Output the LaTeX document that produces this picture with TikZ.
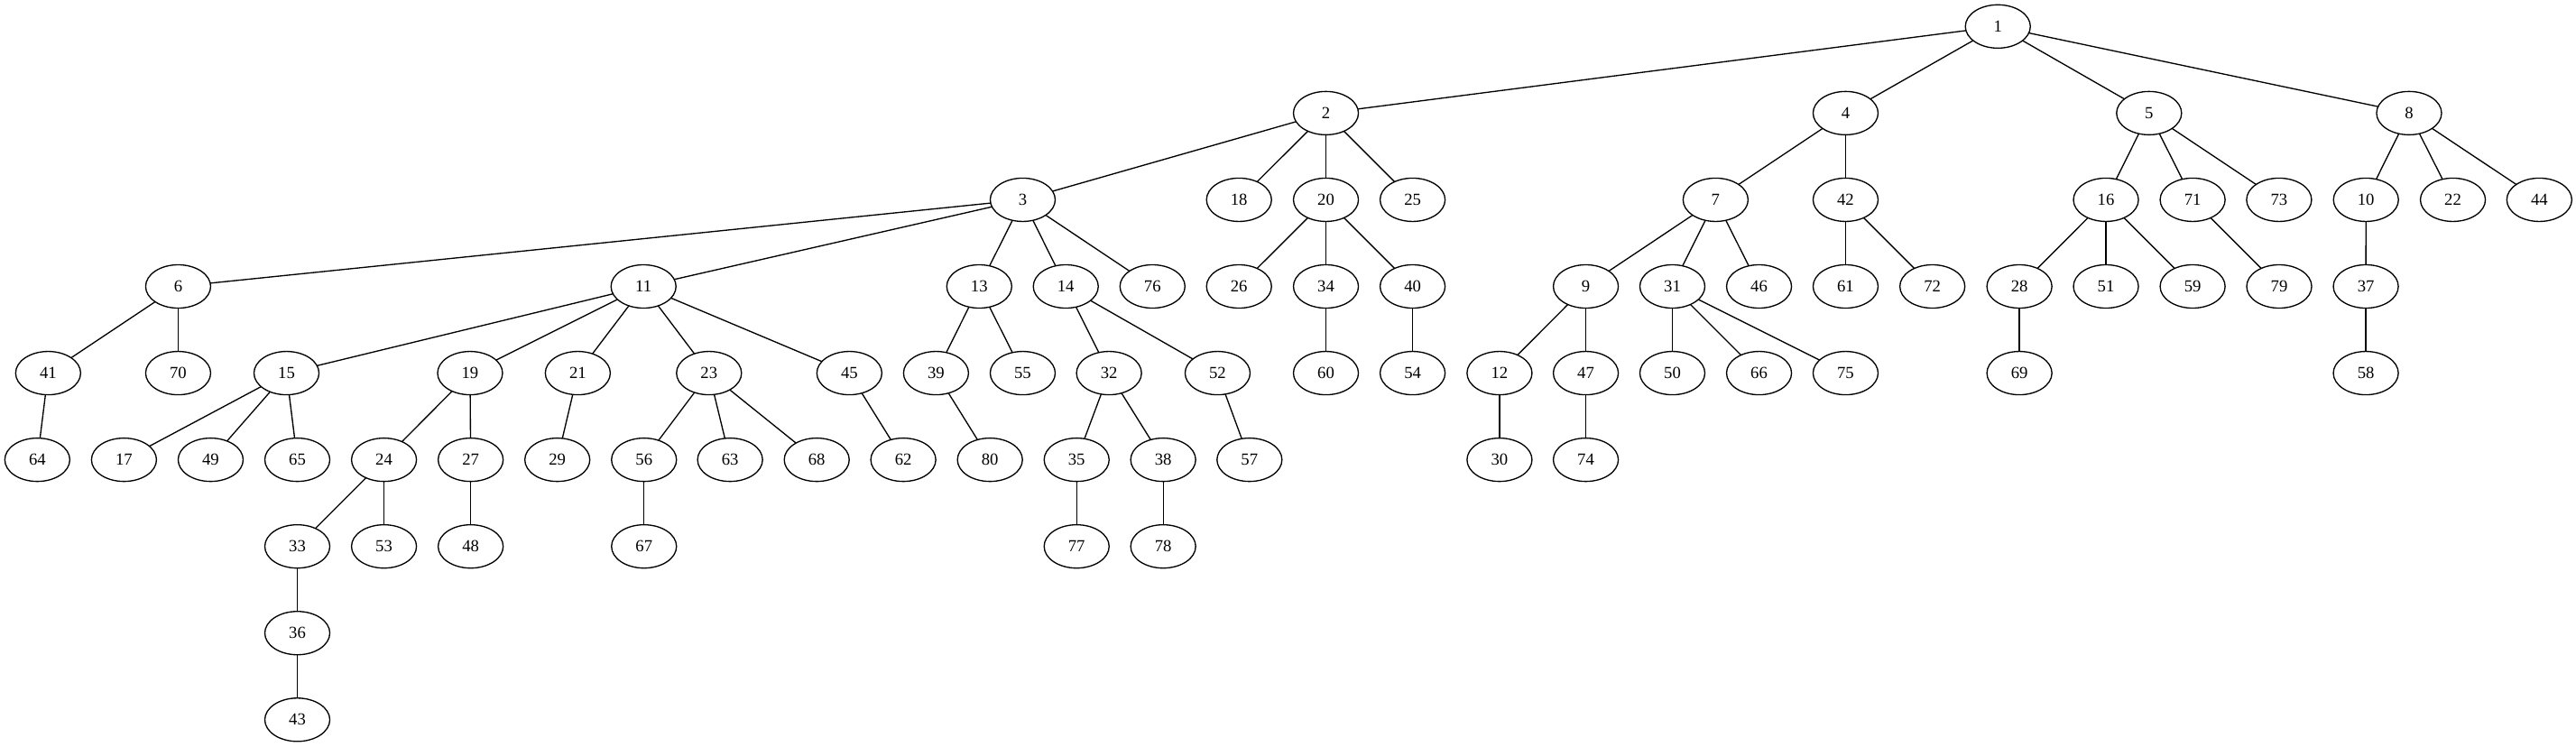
\documentclass[tikz,border=0pt]{standalone}
\usepackage{fontspec}
\setmainfont{Liberation Serif}
\usetikzlibrary{shapes.geometric}
\begin{document}
\begin{tikzpicture}[x=1pt,y=1pt,
  vtx/.style={draw=black, line width=1pt, ellipse, minimum width=54pt, minimum height=36pt, inner sep=0pt, outer sep=0pt, font=\fontsize{14}{16}\selectfont},
  lnk/.style={draw=black, line width=1pt}]
\useasboundingbox (0,0) rectangle (2140,620);
\def\ry#1{598-72*#1}
% rank 0
\node[vtx] (n1) at (1659.7,{\ry{0}}) {1};
% rank 1
\foreach \n/\x in {2/1101.5,4/1533.2,5/1785.3,8/2001.3}
  \node[vtx] (n\n) at (\x,{\ry{1}}) {\n};
% rank 2
\foreach \n/\x in {3/849.6,18/1029.3,20/1101.5,25/1173.5,7/1425.2,42/1533.2,16/1749.5,71/1821.5,73/1893.3,10/1965.5,22/2037.7,44/2109.5}
  \node[vtx] (n\n) at (\x,{\ry{2}}) {\n};
% rank 3
\foreach \n/\x in {6/148,11/534.6,13/813.5,14/885.4,76/957.4,26/1029.3,34/1101.5,40/1173.5,9/1317.4,31/1389.3,46/1461.3,61/1533.2,72/1605.3,28/1677.6,51/1749.5,59/1821.5,79/1893.4,37/1965.4}
  \node[vtx] (n\n) at (\x,{\ry{3}}) {\n};
% rank 4
\foreach \n/\x in {41/40,70/148,15/238,19/390.5,21/480,23/589,45/705.6,39/777.6,55/849.6,32/921.3,52/1011.5,60/1101.5,54/1173.5,12/1245.7,47/1317.4,50/1389.3,66/1461.3,75/1533.2,69/1677.6,58/1965.4}
  \node[vtx] (n\n) at (\x,{\ry{4}}) {\n};
% rank 5
\foreach \n/\x in {64/31,17/103,49/175,65/247,24/319,27/391,29/463,56/535,63/606.5,68/678.5,62/750.4,80/822.4,35/894.4,38/966.3,57/1038,30/1245.7,74/1317.4}
  \node[vtx] (n\n) at (\x,{\ry{5}}) {\n};
% rank 6
\foreach \n/\x in {33/247,53/319,48/391,67/535,77/894.4,78/966.3}
  \node[vtx] (n\n) at (\x,{\ry{6}}) {\n};
% rank 7, 8
\node[vtx] (n36) at (247,{\ry{7}}) {36};
\node[vtx] (n43) at (247,{\ry{8}}) {43};
% edges
\foreach \a/\b in {1/2,1/4,1/5,1/8,
  2/3,2/18,2/20,2/25,4/7,4/42,5/16,5/71,5/73,8/10,8/22,8/44,
  3/6,3/11,3/13,3/14,3/76,20/26,20/34,20/40,7/9,7/31,7/46,42/61,42/72,
  16/28,16/51,16/59,71/79,10/37,
  6/41,6/70,11/15,11/19,11/21,11/23,11/45,13/39,13/55,14/32,14/52,
  34/60,40/54,9/12,9/47,31/50,31/66,31/75,28/69,37/58,
  41/64,15/17,15/49,15/65,19/24,19/27,21/29,23/56,23/63,23/68,45/62,
  39/80,32/35,32/38,52/57,12/30,47/74,
  24/33,24/53,27/48,56/67,35/77,38/78,33/36,36/43}
  \draw[lnk] (n\a) -- (n\b);
\end{tikzpicture}
\end{document}
